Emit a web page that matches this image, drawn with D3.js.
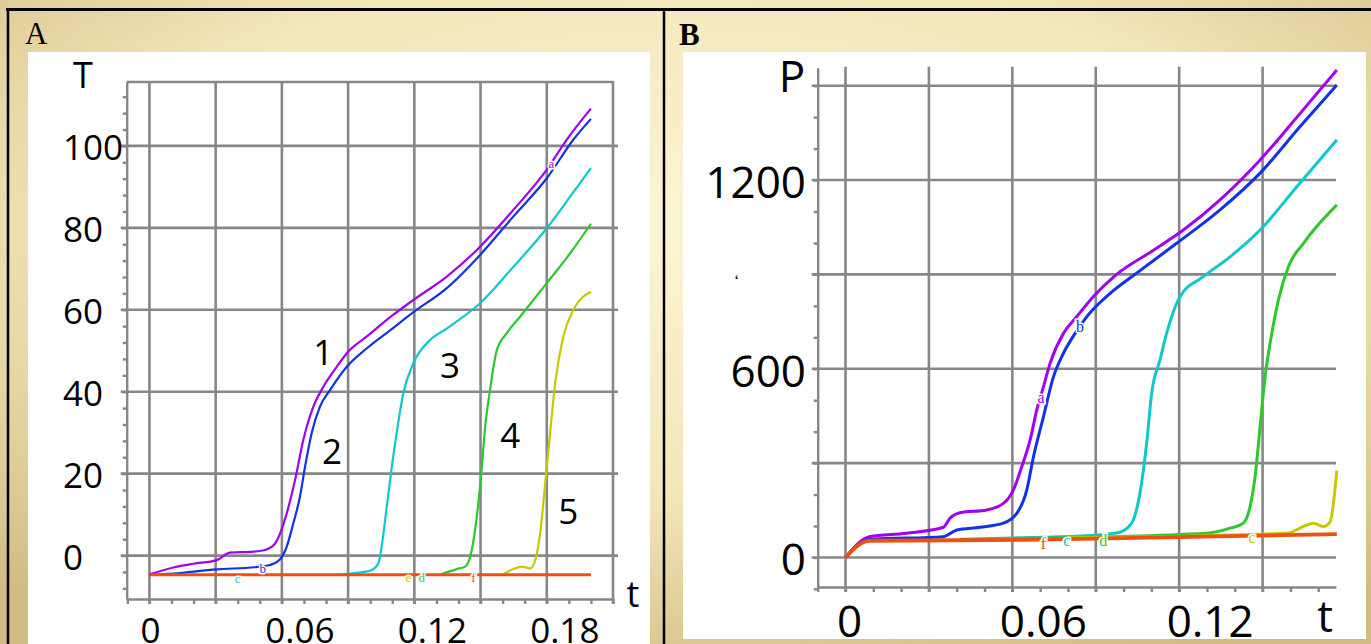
<!DOCTYPE html>
<meta charset="utf-8">
<script src="https://d3js.org/d3.v7.min.js"></script>
<style>
  body { margin: 0; background: #fff; }
  svg { display: block; }
</style>
<div id="chart"></div>
<script>

// ---------- data ----------
// panel A : T against t
const tTicksA = [0, 0.06, 0.12, 0.18];
const TTicks = [0, 20, 40, 60, 80, 100];
const curveA1 = [[0,-4.6],[0.0108,-2.9],[0.02,-2],[0.0305,-1.1],[0.0365,0.7],[0.047,0.95],[0.053,1.5],[0.057,3],[0.0592,5.4],[0.0622,10.3],[0.066,18.5],[0.0697,28.2],[0.0743,36.4],[0.0788,41.2],[0.0849,46.1],[0.0894,49.4],[0.0985,53.5],[0.1105,58.8],[0.1196,62.4],[0.1347,68.1],[0.1498,75.4],[0.1649,84.4],[0.18,94.2],[0.189,101.5],[0.2,109.1]];
const curveA2 = [[0,-4.7],[0.0108,-4.4],[0.0305,-3.35],[0.0478,-2.85],[0.0546,-2.3],[0.0592,-0.9],[0.0622,2.2],[0.0652,7.9],[0.0682,14.4],[0.0705,21.7],[0.0735,29.9],[0.0773,36.4],[0.0818,40.4],[0.0894,46.1],[0.0985,50.6],[0.1105,55.6],[0.1196,59.4],[0.1347,65.3],[0.1498,73.4],[0.1649,82.8],[0.18,92.1],[0.192,101.5],[0.2,106.6]];
const curveA3 = [[0.0849,-4.7],[0.0939,-4.2],[0.1,-3.7],[0.1037,-1.9],[0.1052,2.2],[0.1075,11.9],[0.1098,21.7],[0.112,29.9],[0.115,39.6],[0.1196,47],[0.1271,52.6],[0.1347,55.4],[0.1422,58.3],[0.1498,61.6],[0.1649,70.5],[0.18,79.9],[0.1906,87.6],[0.2,94.6]];
const curveA4 = [[0.1324,-4.5],[0.1392,-3.3],[0.143,-2.7],[0.1453,-0.3],[0.1483,9.5],[0.1506,21.7],[0.1521,31.5],[0.1543,40.4],[0.1574,50.2],[0.1619,54.3],[0.1679,58.3],[0.18,66.5],[0.1906,73.8],[0.2,81]];
const curveA5 = [[0.1604,-4.5],[0.1649,-3.3],[0.1687,-2.7],[0.1725,-3.1],[0.1743,-1.9],[0.177,5.4],[0.1793,17.7],[0.1815,29.9],[0.1838,42.1],[0.1875,53.5],[0.1921,60],[0.2,64.4]];
const curveA6 = [[0,-4.7],[0.2,-4.7]];
const numLabelsA = [["1",0.0787,46.5],["2",0.0827,22.4],["3",0.1362,43.4],["4",0.1634,26.3],["5",0.1897,7.7]];
const letterLabelsA = [["a",0.1821,95.6,0],["b",0.0513,-3.1,1],["c",0.04,-5.6,2],["e",0.1173,-5.3,4],["d",0.1234,-5.3,3],["f",0.1468,-5.3,5]];

// panel B : P against t
const tTicksB = [0, 0.06, 0.12];
const PTicks = [0, 600, 1200];
const curveB1 = [[0,0],[0.0086,66],[0.022,77],[0.0352,96],[0.0376,125],[0.0412,142],[0.0508,151],[0.0568,172],[0.0604,215],[0.0634,289],[0.0664,374],[0.0688,469],[0.0712,543],[0.0736,618],[0.0784,713],[0.0832,766],[0.0891,829],[0.0975,900],[0.1095,970],[0.1215,1041],[0.1347,1137],[0.1491,1264],[0.1635,1412],[0.1767,1550]];
const curveB2 = [[0,0],[0.0086,57],[0.0352,66],[0.04,87],[0.0484,96],[0.0568,109],[0.0616,140],[0.0652,215],[0.0676,320],[0.0712,448],[0.0748,575],[0.0784,650],[0.0826,713],[0.0868,766],[0.0952,840],[0.1047,904],[0.1191,999],[0.1347,1105],[0.1491,1222],[0.1635,1370],[0.1767,1502]];
const curveB3 = [[0.0412,58],[0.06,62],[0.0843,68],[0.0975,78],[0.1015,95],[0.1035,119],[0.1059,204],[0.1083,363],[0.1101,522],[0.1131,628],[0.1155,713],[0.1203,829],[0.1287,893],[0.1383,956],[0.1491,1041],[0.1623,1179],[0.1767,1328]];
const curveB4 = [[0.06,60],[0.1299,77],[0.1383,93],[0.1431,109],[0.1455,162],[0.1473,257],[0.1491,416],[0.1509,575],[0.1527,681],[0.1557,819],[0.1593,925],[0.1647,999],[0.1767,1121]];
const curveB5 = [[0.08,62],[0.1587,77],[0.1659,103],[0.1683,109],[0.1719,98],[0.1743,114],[0.1767,276]];
const curveB6 = [[0,0],[0.0085,53],[0.065,56],[0.1767,74]];
const letterLabelsB = [["a",0.0703,507,0],["b",0.0843,733,1],["f",0.0712,44,5],["c",0.0796,55,2],["d",0.0927,55,3],["c",0.1462,62,4]];

const colors = ["#a200ee", "#1232e6", "#10c8cc", "#2cc82c", "#c8c800", "#ee5010"];

// ---------- page ----------
const W = 1371, H = 644;
const svg = d3.select("#chart").append("svg")
    .attr("width", W).attr("height", H);

const grad = svg.append("defs").append("radialGradient")
    .attr("id", "bg").attr("cx", "50%").attr("cy", "35%").attr("r", "75%");
grad.append("stop").attr("offset", "0%").attr("stop-color", "#fcf5d4");
grad.append("stop").attr("offset", "55%").attr("stop-color", "#f3e7ba");
grad.append("stop").attr("offset", "100%").attr("stop-color", "#d2bb82");
svg.append("rect").attr("width", W).attr("height", H).attr("fill", "url(#bg)");

// white plot cards
svg.append("rect").attr("x", 28).attr("y", 52).attr("width", 622).attr("height", 592).attr("fill", "#fff");
svg.append("rect").attr("x", 683).attr("y", 52).attr("width", 683).attr("height", 587).attr("fill", "#fff");

// black panel borders
svg.append("line").attr("x1", 6).attr("x2", W).attr("y1", 9.5).attr("y2", 9.5).attr("stroke", "#000").attr("stroke-width", 3);
svg.append("line").attr("x1", 8).attr("x2", 8).attr("y1", 9).attr("y2", H).attr("stroke", "#000").attr("stroke-width", 2.5);
svg.append("line").attr("x1", 664).attr("x2", 664).attr("y1", 9).attr("y2", H).attr("stroke", "#000").attr("stroke-width", 2.5);

svg.append("text").attr("x", 25).attr("y", 44).text("A")
    .style("font-family", "Liberation Serif").style("font-size", "31px");
svg.append("text").attr("x", 679).attr("y", 45).text("B")
    .style("font-family", "Liberation Serif").style("font-size", "31px").style("font-weight", "bold");

const gridColor = "#878787";

function drawPanel(o) {
  const g = svg.append("g");
  const x = o.x, y = o.y;
  const [x0, x1] = x.range();
  const [y0, y1] = y.range(); // y0 bottom, y1 top

  // grid
  g.selectAll(".vg").data(o.xGrid).join("line")
      .attr("x1", d => x(d)).attr("x2", d => x(d))
      .attr("y1", y1 - 1).attr("y2", y0 + 5)
      .attr("stroke", gridColor).attr("stroke-width", 2.6);
  g.selectAll(".hg").data(o.yGrid).join("line")
      .attr("x1", x0 - 6).attr("x2", o.hgRight)
      .attr("y1", d => y(d)).attr("y2", d => y(d))
      .attr("stroke", gridColor).attr("stroke-width", 2.6);

  // frame with minor ticks (d3 axes)
  g.append("g").attr("transform", `translate(0,${y0})`)
      .call(d3.axisBottom(x).tickValues(o.xMinor).tickSize(5).tickSizeOuter(0).tickFormat(""))
      .call(s => s.selectAll("line,path").attr("stroke", gridColor).attr("stroke-width", 2.4));
  g.append("g").attr("transform", `translate(${x0},0)`)
      .call(d3.axisLeft(y).tickValues(o.yMinor).tickSize(4).tickSizeOuter(0).tickFormat(""))
      .call(s => s.selectAll("line,path").attr("stroke", gridColor).attr("stroke-width", 2.4));
  if (o.box) {
    g.append("line").attr("x1", x0).attr("x2", x1).attr("y1", y1).attr("y2", y1)
        .attr("stroke", gridColor).attr("stroke-width", 2.6);
  }

  // tick labels
  g.selectAll(".xl").data(o.xTicks).join("text")
      .attr("x", d => x(d) + (d === 0 ? o.x0dx : o.xdx)).attr("y", o.xLabelY)
      .attr("text-anchor", "middle")
      .text(d => d3.format("~g")(d))
      .style("font-family", "Open Sans").style("font-size", o.fs + "px");
  g.selectAll(".yl").data(o.yTicks).join("text")
      .attr("x", o.yLabelX).attr("y", d => y(d) + o.ydy)
      .attr("text-anchor", o.yAnchor)
      .text(d => d)
      .style("font-family", "Open Sans").style("font-size", o.fs + "px");

  // axis names
  g.append("text").attr("x", o.yName[1]).attr("y", o.yName[2]).attr("text-anchor", "middle")
      .text(o.yName[0]).style("font-family", "Open Sans").style("font-size", o.nameFs + "px");
  g.append("text").attr("x", o.xName[0]).attr("y", o.xName[1]).attr("text-anchor", "middle")
      .text("t").style("font-family", "Open Sans").style("font-size", o.nameFs + "px");

  // curves
  const line = d3.line().x(d => x(d[0])).y(d => y(d[1])).curve(d3.curveMonotoneX);
  g.selectAll(".curve").data(o.curves).join("path")
      .attr("d", d => line(d))
      .attr("fill", "none")
      .attr("stroke", (d, i) => colors[i])
      .attr("stroke-width", (d, i) => i === 5 ? o.lw + 0.8 : o.lw)
      .attr("stroke-linejoin", "round");

  // small curve letters
  g.selectAll(".ll").data(o.letters).join("text")
      .attr("x", d => x(d[1])).attr("y", d => y(d[2]))
      .attr("text-anchor", "middle").attr("dominant-baseline", "central")
      .text(d => d[0])
      .attr("fill", d => colors[d[3]])
      .attr("stroke", "#fff").attr("stroke-width", 3).attr("paint-order", "stroke")
      .style("font-family", "Liberation Serif").style("font-size", o.letterFs + "px");
}

// panel A
const xA = d3.scaleLinear().domain([-0.0103, 0.21]).range([126.7, 613]);
const yA = d3.scaleLinear().domain([-10.6, 115.6]).range([599, 82]);
drawPanel({
  x: xA, y: yA,
  xGrid: d3.range(0, 0.2101, 0.03), yGrid: TTicks, hgRight: 618,
  xMinor: d3.range(-0.01, 0.2101, 0.01), yMinor: d3.range(-8, 115, 4),
  box: true,
  xTicks: tTicksA, yTicks: TTicks,
  x0dx: 1, xdx: 18, xLabelY: 643,
  yLabelX: 63, ydy: 14, yAnchor: "start", fs: 35,
  yName: ["T", 83, 88], xName: [633, 607], nameFs: 36,
  curves: [curveA1, curveA2, curveA3, curveA4, curveA5, curveA6], lw: 2.2,
  letters: letterLabelsA, letterFs: 13
});
svg.append("g").selectAll("text").data(numLabelsA).join("text")
    .attr("x", d => xA(d[1])).attr("y", d => yA(d[2]))
    .attr("text-anchor", "middle")
    .text(d => d[0])
    .style("font-family", "Open Sans").style("font-size", "35px");

// panel B
const xB = d3.scaleLinear().domain([-0.01, 0.1764]).range([817.7, 1336]);
const yB = d3.scaleLinear().domain([-94, 1557]).range([587, 67.8]);
drawPanel({
  x: xB, y: yB,
  xGrid: d3.range(0, 0.1501, 0.03), yGrid: d3.range(0, 1501, 300), hgRight: 1336,
  xMinor: d3.range(-0.01, 0.1764, 0.01), yMinor: d3.range(-100, 1560, 100),
  box: false,
  xTicks: tTicksB, yTicks: PTicks,
  x0dx: 4, xdx: 31, xLabelY: 637,
  yLabelX: 806, ydy: 18, yAnchor: "end", fs: 44,
  yName: ["P", 792, 92], xName: [1325, 632], nameFs: 44,
  curves: [curveB1, curveB2, curveB3, curveB4, curveB5, curveB6], lw: 3,
  letters: letterLabelsB, letterFs: 16
});
// stray mark left of the B axis
svg.append("text").attr("x", 734).attr("y", 286).text("\u2018")
    .style("font-family", "Liberation Serif").style("font-size", "16px");

</script>
